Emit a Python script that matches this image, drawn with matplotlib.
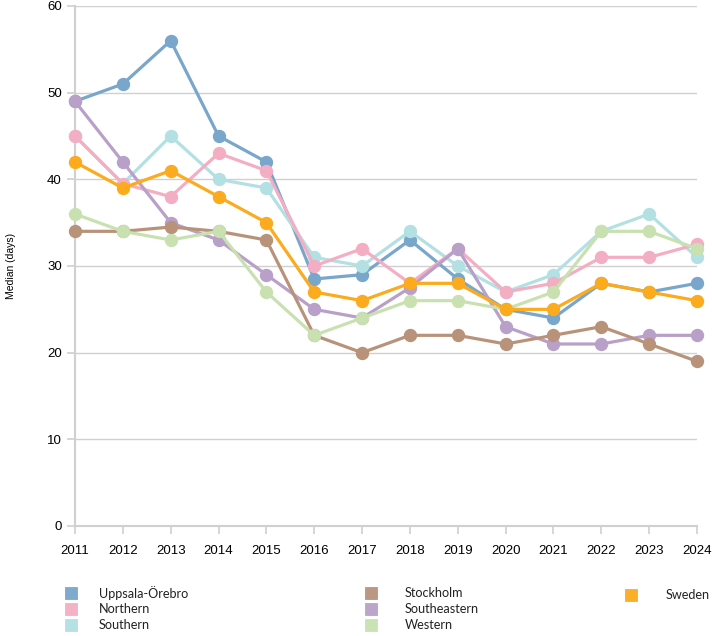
import matplotlib
matplotlib.use('Agg')
import matplotlib.pyplot as plt
from matplotlib.patches import Rectangle

years = list(range(2011, 2025))

uppsala = [49, 51, 56, 45, 42, 28.5, 29, 33, 28.5, 25, 24, 28, 27, 28]
northern = [45, 39.5, 38, 43, 41, 30, 32, 28, 32, 27, 28, 31, 31, 32.5]
southern = [45, 39.5, 45, 40, 39, 31, 30, 34, 30, 27, 29, 34, 36, 31]
stockholm = [34, 34, 34.5, 34, 33, 22, 20, 22, 22, 21, 22, 23, 21, 19]
southeastern = [49, 42, 35, 33, 29, 25, 24, 27.5, 32, 23, 21, 21, 22, 22]
western = [36, 34, 33, 34, 27, 22, 24, 26, 26, 25, 27, 34, 34, 32]
sweden = [42, 39, 41, 38, 35, 27, 26, 28, 28, 25, 25, 28, 27, 26]

names = ['Uppsala-Örebro', 'Northern', 'Southern', 'Stockholm',
         'Southeastern', 'Western', 'Sweden']
series = [uppsala, northern, southern, stockholm, southeastern, western, sweden]
colors = ['#79a6cb', '#f4aec3', '#b2e0e3', '#b8937a', '#b9a0c9', '#c9e1b1', '#fbab1d']
# drawing order (bottom to top)
zorders = [2, 4, 3, 6, 5, 7, 8]

W, H = 712, 636
fig = plt.figure(figsize=(W / 100, H / 100), dpi=100)
ax = fig.add_axes([75 / W, 1 - 526 / H, 622 / W, 520 / H])

for name, vals, col, z in zip(names, series, colors, zorders):
    ax.plot(years, vals, color=col, lw=2.3, marker='o', markersize=8.6,
            zorder=z, clip_on=False, solid_capstyle='round')

ax.set_xlim(2011, 2024)
ax.set_ylim(0, 60)
ax.set_xticks(years)
ax.set_yticks(range(0, 61, 10))
ax.yaxis.grid(True, color='#d0d0d0', lw=1.0)
ax.set_axisbelow(True)
for s in ['top', 'right']:
    ax.spines[s].set_visible(False)
for s in ['left', 'bottom']:
    ax.spines[s].set_color('#d0d0d0')
    ax.spines[s].set_linewidth(1.5)
ax.tick_params(axis='both', colors='#d0d0d0', length=6, width=1.2,
               labelcolor='black', labelsize=9.5)
ax.tick_params(axis='x', pad=8)
for lab in ax.get_xticklabels() + ax.get_yticklabels():
    lab.set_family('Liberation Sans')
ax.set_ylabel('Median (days)', fontsize=7.5, family='Liberation Sans', labelpad=22)

# legend: three columns drawn by hand (pixel positions)
cols = [([0, 1, 2], 65, 99, [593, 609, 625]),
        ([3, 4, 5], 365, 405, [593, 609, 625]),
        ([6], 625, 666, [595])]
for idx, px, tx, ys in cols:
    for i, py in zip(idx, ys):
        fig.patches.append(Rectangle((px / W, 1 - (py + 6.3) / H), 12 / W, 12.6 / H,
                                     transform=fig.transFigure, facecolor=colors[i],
                                     edgecolor=colors[i], lw=0.6, alpha=0.95))
        fig.text(tx / W, 1 - py / H, names[i], ha='left', va='center',
                 family='Lato', fontsize=9.1, color='#222222')

fig.savefig('out.png', dpi=100)
